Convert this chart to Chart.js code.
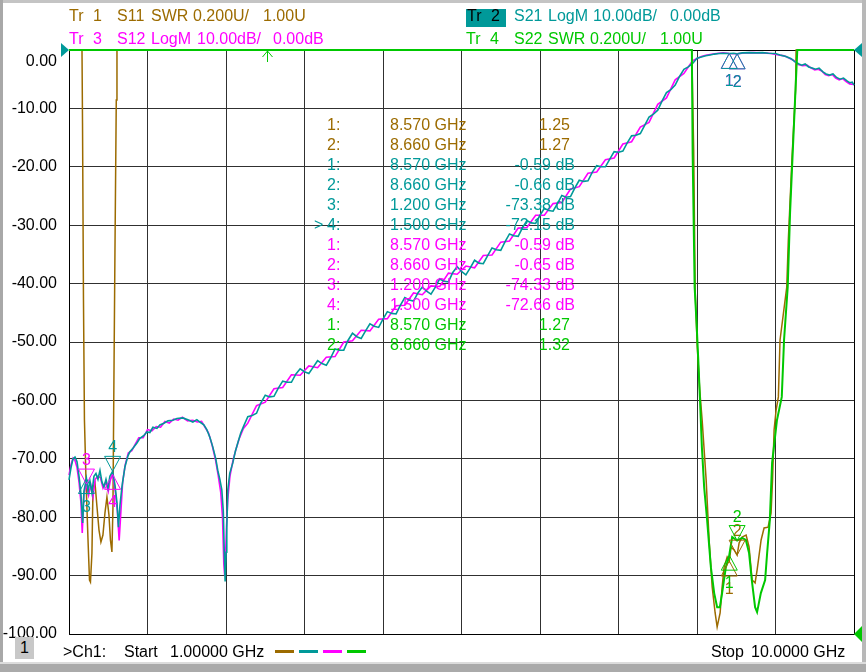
<!DOCTYPE html>
<html lang="en">
<head>
<meta charset="UTF-8">
<title>Ch1 S-parameters 1-10 GHz</title>
<script src="https://cdn.jsdelivr.net/npm/chart.js"></script>
<style>
  body { margin:0; background:#fff; font-family:"Liberation Sans", Arial, sans-serif; }
  #wrap { position:relative; width:866px; height:672px; overflow:hidden; background:#fff; }
  #wrap canvas { position:absolute; left:0; top:0; }
  .t { position:absolute; font-size:16px; line-height:16px; white-space:pre; }
  .br { color:#9c6b00; } .tl { color:#009999; } .mg { color:#ff00ff; } .gr { color:#00c800; }
  .fr { position:absolute; background:#b0b0b0; }
  .dash { position:absolute; top:650px; height:3px; width:19px; }
</style>
</head>
<body>
<div id="wrap">
  <canvas id="vna" width="866" height="672"></canvas>

  <!-- window frame -->
  <div class="fr" style="left:0;top:0;width:866px;height:3px;background:#c4c4c4"></div>
  <div class="fr" style="left:0;top:0;width:3px;height:672px;background:#a8a8a8"></div>
  <div class="fr" style="left:862px;top:0;width:4px;height:672px;background:#b8b8b8"></div>
  <div class="fr" style="left:0;top:662px;width:866px;height:2px;background:#dcdcdc"></div>
  <div class="fr" style="left:0;top:664px;width:866px;height:8px;background:#aaaaaa"></div>

  <!-- trace headers -->
  <span class="t br" style="left:69px;top:7.5px">Tr</span>
  <span class="t br" style="left:93px;top:7.5px">1</span>
  <span class="t br" style="left:117px;top:7.5px">S11</span>
  <span class="t br" style="left:151px;top:7.5px">SWR</span>
  <span class="t br" style="left:193px;top:7.5px">0.200U/</span>
  <span class="t br" style="left:263px;top:7.5px">1.00U</span>

  <span class="t mg" style="left:69px;top:30.5px">Tr</span>
  <span class="t mg" style="left:93px;top:30.5px">3</span>
  <span class="t mg" style="left:117px;top:30.5px">S12</span>
  <span class="t mg" style="left:151px;top:30.5px">LogM</span>
  <span class="t mg" style="left:197px;top:30.5px">10.00dB/</span>
  <span class="t mg" style="left:273px;top:30.5px">0.00dB</span>

  <div style="position:absolute;left:466px;top:9px;width:40px;height:18px;background:#009999"></div>
  <span class="t" style="left:467px;top:7.5px;color:#000">Tr</span>
  <span class="t" style="left:491px;top:7.5px;color:#000">2</span>
  <span class="t tl" style="left:514px;top:7.5px">S21</span>
  <span class="t tl" style="left:548px;top:7.5px">LogM</span>
  <span class="t tl" style="left:593px;top:7.5px">10.00dB/</span>
  <span class="t tl" style="left:670px;top:7.5px">0.00dB</span>

  <span class="t gr" style="left:466px;top:30.5px">Tr</span>
  <span class="t gr" style="left:490px;top:30.5px">4</span>
  <span class="t gr" style="left:514px;top:30.5px">S22</span>
  <span class="t gr" style="left:548px;top:30.5px">SWR</span>
  <span class="t gr" style="left:590px;top:30.5px">0.200U/</span>
  <span class="t gr" style="left:660px;top:30.5px">1.00U</span>

  <!-- top y label sits below its gridline -->
  <span class="t" style="right:809px;top:52.5px;color:#000">0.00</span>

  <!-- footer -->
  <div style="position:absolute;left:15px;top:637px;width:19px;height:22px;background:#c8c8c8;font-size:16px;line-height:22px;text-align:center">1</div>
  <span class="t" style="left:63px;top:643.5px;color:#000">&gt;Ch1:</span>
  <span class="t" style="left:124px;top:643.5px;color:#000">Start</span>
  <span class="t" style="left:170px;top:643.5px;color:#000">1.00000 GHz</span>
  <div class="dash" style="left:275px;background:#9c6b00"></div>
  <div class="dash" style="left:299px;background:#009999"></div>
  <div class="dash" style="left:323px;background:#ff00ff"></div>
  <div class="dash" style="left:347px;background:#00c800"></div>
  <span class="t" style="left:711px;top:643.5px;color:#000">Stop</span>
  <span class="t" style="left:751px;top:643.5px;color:#000">10.0000 GHz</span>

  <div id="table"></div>
</div>

<script>
    // Frequency grid (GHz), 10 divisions of 0.9 GHz
    var xGrid = [1.0, 1.9, 2.8, 3.7, 4.6, 5.5, 6.4, 7.3, 8.2, 9.1, 10.0];

    // S21 LogM (dB)
    var s21 = [
        [1.000,-73.6],[1.023,-71.5],[1.046,-70.0],[1.069,-69.7],[1.092,-70.5],[1.115,-73.0],[1.137,-76.0],
        [1.157,-81.0],[1.172,-75.5],[1.200,-73.38],[1.218,-75.5],[1.240,-73.8],[1.263,-75.8],[1.286,-73.0],
        [1.309,-72.5],[1.332,-73.5],[1.355,-72.0],[1.378,-74.0],[1.401,-74.8],[1.424,-73.5],[1.447,-75.0],
        [1.469,-73.0],[1.500,-72.15],[1.527,-74.5],[1.550,-77.5],[1.567,-81.7],[1.584,-78.0],[1.607,-74.8],
        [1.641,-71.4],[1.676,-69.5],[1.698,-68.8],[1.733,-68.2],[1.779,-67.3],[1.813,-66.5],[1.859,-66.0],
        [1.893,-65.4],[1.927,-65.5],[1.962,-64.6],[2.008,-64.8],[2.042,-64.2],[2.088,-63.9],[2.134,-63.5],
        [2.191,-63.4],[2.237,-63.1],[2.305,-63.0],[2.363,-63.3],[2.420,-63.7],[2.466,-63.3],[2.500,-63.7],
        [2.546,-64.2],[2.580,-65.0],[2.615,-66.3],[2.649,-68.0],[2.683,-70.0],[2.706,-72.0],[2.729,-73.5],
        [2.752,-75.3],[2.769,-79.0],[2.780,-86.0],[2.790,-91.0],[2.801,-86.0],[2.809,-81.7],[2.821,-75.3],
        [2.843,-72.5],[2.878,-70.7],[2.906,-68.8],[2.935,-67.3],[2.969,-65.6],
        [3.00,-64.5],[3.05,-62.8],[3.10,-62.6],[3.15,-62.2],[3.20,-60.4],[3.25,-59.1],[3.30,-59.4],[3.35,-59.3],
        [3.40,-57.9],[3.45,-56.7],[3.50,-56.9],[3.55,-56.9],[3.60,-55.5],[3.65,-54.6],[3.70,-55.1],[3.75,-55.4],
        [3.80,-54.3],[3.85,-53.2],[3.90,-53.7],[3.95,-54.0],[4.00,-52.7],[4.05,-51.2],[4.10,-51.4],[4.15,-51.4],
        [4.20,-49.7],[4.25,-48.5],[4.30,-49.1],[4.35,-49.4],[4.40,-48.1],[4.45,-46.9],[4.50,-47.3],[4.55,-47.5],
        [4.60,-46.1],[4.65,-44.8],[4.70,-45.1],[4.75,-45.2],[4.80,-43.7],[4.85,-42.4],[4.90,-42.8],[4.95,-43.0],
        [5.00,-41.6],[5.05,-40.6],[5.10,-41.3],[5.15,-41.8],[5.20,-40.6],[5.25,-39.2],[5.30,-39.6],[5.35,-39.7],
        [5.40,-38.1],[5.45,-37.1],[5.50,-37.9],[5.55,-38.5],[5.60,-37.3],[5.65,-36.0],[5.70,-36.5],[5.75,-36.6],
        [5.80,-35.2],[5.85,-33.9],[5.90,-34.2],[5.95,-34.3],[6.00,-32.8],[6.05,-31.5],[6.10,-31.8],[6.15,-31.9],
        [6.20,-30.4],[6.25,-29.2],[6.30,-29.6],[6.35,-29.7],[6.40,-28.3],[6.45,-27.1],[6.50,-27.5],[6.55,-27.6],
        [6.60,-26.3],[6.65,-24.9],[6.70,-25.2],[6.75,-25.1],[6.80,-23.6],[6.85,-22.3],[6.90,-22.5],[6.95,-22.4],
        [7.00,-20.9],[7.05,-19.8],[7.10,-20.0],[7.15,-20.0],[7.20,-18.7],[7.25,-17.4],[7.30,-17.5],[7.35,-17.3],
        [7.40,-15.9],[7.45,-14.7],[7.50,-14.6],[7.55,-14.3],[7.60,-12.9],[7.65,-11.5],[7.70,-11.0],[7.75,-10.3],
        [7.80,-8.7],[7.85,-7.3],[7.90,-6.8],[7.95,-6.0],[8.00,-4.5],[8.05,-3.3],[8.10,-2.9],[8.15,-2.3],
        [8.20,-1.4],[8.25,-1.2],[8.30,-1.0],[8.35,-0.85],[8.40,-0.7],[8.45,-0.6],[8.50,-0.55],[8.57,-0.59],
        [8.62,-0.55],[8.66,-0.66],[8.72,-0.5],[8.80,-0.45],[8.88,-0.5],[8.95,-0.45],[9.02,-0.55],[9.10,-0.6],
        [9.15,-0.85],[9.22,-1.1],[9.28,-1.5],[9.32,-2.0],[9.37,-2.4],[9.40,-2.6],[9.44,-2.4],[9.48,-2.9],
        [9.52,-3.1],[9.56,-3.3],[9.60,-3.1],[9.64,-3.7],[9.68,-4.1],[9.72,-4.3],[9.76,-4.1],[9.80,-4.7],
        [9.84,-5.0],[9.88,-4.8],[9.92,-5.3],[9.95,-5.6],[9.98,-5.5],[10.00,-6.0]
    ];

    // S12 LogM (dB)
    var s12 = [
        [1.000,-72.8],[1.023,-71.0],[1.046,-69.9],[1.069,-70.3],[1.092,-71.5],[1.115,-74.0],[1.137,-77.5],
        [1.152,-82.7],[1.170,-76.0],[1.200,-74.33],[1.225,-76.2],[1.250,-74.5],[1.275,-76.5],[1.300,-73.5],
        [1.330,-73.0],[1.360,-73.2],[1.390,-75.0],[1.420,-74.0],[1.450,-75.6],[1.475,-73.6],[1.500,-72.66],
        [1.530,-75.5],[1.555,-79.0],[1.575,-84.0],[1.595,-79.0],[1.615,-74.0],[1.645,-71.0],[1.680,-69.0],
        [1.720,-68.6],[1.760,-67.5],[1.800,-66.4],[1.850,-66.4],[1.900,-65.0],[1.950,-65.2],[2.000,-64.5],
        [2.050,-64.6],[2.100,-63.6],[2.150,-63.9],[2.200,-63.2],[2.250,-63.4],[2.300,-62.9],[2.360,-63.5],
        [2.420,-63.4],[2.470,-63.7],[2.520,-63.6],[2.560,-64.6],[2.600,-65.6],[2.640,-67.6],[2.680,-70.2],
        [2.710,-72.8],[2.740,-75.8],[2.760,-80.0],[2.775,-88.0],[2.785,-90.0],[2.795,-86.5],[2.805,-82.0],
        [2.820,-77.0],[2.845,-73.0],[2.880,-70.3],[2.910,-68.6],[2.950,-66.6],[3.000,-64.8],
        [3.05,-63.9],[3.15,-60.9],[3.25,-60.3],[3.35,-58.0],[3.45,-57.8],[3.55,-55.6],[3.65,-55.7],[3.75,-54.1],
        [3.85,-54.4],[3.95,-52.6],[4.05,-52.5],[4.15,-50.0],[4.25,-49.8],[4.35,-48.0],[4.45,-48.1],[4.55,-46.1],
        [4.65,-46.0],[4.75,-43.8],[4.85,-43.7],[4.95,-41.6],[5.05,-41.9],[5.15,-40.4],[5.25,-40.5],[5.35,-38.2],
        [5.45,-38.4],[5.55,-37.0],[5.65,-37.3],[5.75,-35.2],[5.85,-35.1],[5.95,-32.9],[6.05,-32.7],[6.15,-30.5],
        [6.25,-30.4],[6.35,-28.3],[6.45,-28.3],[6.55,-26.3],[6.65,-26.1],[6.75,-23.8],[6.85,-23.4],[6.95,-21.1],
        [7.05,-20.9],[7.15,-18.8],[7.25,-18.5],[7.35,-16.1],[7.45,-15.7],[7.55,-13.2],[7.65,-12.4],[7.75,-9.3],
        [7.85,-8.2],[7.95,-5.1],[8.05,-4.0],[8.15,-1.8],
        [8.25,-1.1],[8.30,-0.9],[8.40,-0.65],[8.50,-0.5],[8.57,-0.59],[8.66,-0.65],[8.75,-0.5],[8.85,-0.45],
        [8.95,-0.5],[9.05,-0.6],[9.12,-0.8],[9.20,-1.0],[9.26,-1.4],[9.31,-1.8],[9.36,-2.5],[9.41,-2.7],
        [9.46,-2.6],[9.50,-3.0],[9.55,-3.4],[9.59,-3.3],[9.63,-3.6],[9.67,-4.2],[9.71,-4.4],[9.75,-4.2],
        [9.79,-4.8],[9.83,-5.1],[9.87,-4.9],[9.91,-5.4],[9.95,-5.8],[10.00,-5.9]
    ];

    // S11 SWR (U), pinned at 3.00 where off the top of the grid
    var s11 = [
        [1.000,3.0],[1.149,3.0],[1.155,2.75],[1.166,2.144],[1.177,1.733],[1.195,1.527],[1.218,1.322],
        [1.235,1.185],[1.246,1.178],[1.263,1.277],[1.275,1.503],[1.298,1.517],[1.321,1.435],[1.344,1.356],
        [1.366,1.315],[1.389,1.339],[1.412,1.414],[1.435,1.469],[1.458,1.408],[1.475,1.322],[1.492,1.281],
        [1.504,1.435],[1.515,1.870],[1.527,2.315],[1.542,2.829],[1.550,3.0],
        [8.140,3.0],[8.162,2.658],[8.179,2.178],[8.202,1.99],[8.231,1.836],[8.259,1.733],[8.305,1.527],
        [8.339,1.322],[8.374,1.161],[8.408,1.072],[8.431,1.024],[8.465,1.072],[8.488,1.161],[8.511,1.229],
        [8.546,1.264],[8.570,1.25],[8.591,1.298],[8.625,1.288],[8.660,1.27],[8.683,1.312],[8.717,1.332],
        [8.763,1.339],[8.797,1.298],[8.832,1.185],[8.866,1.175],[8.889,1.219],[8.935,1.322],[8.969,1.363],
        [9.015,1.366],[9.049,1.414],[9.066,1.527],[9.084,1.699],[9.107,1.767],[9.133,1.812],[9.152,2.007],
        [9.229,2.188],[9.247,2.349],[9.290,2.634],[9.330,2.863],[9.336,3.0],[10.000,3.0]
    ];

    // S22 SWR (U)
    var s22 = [
        [1.000,3.0],[8.141,3.0],[8.150,2.647],[8.173,2.188],[8.195,2.065],[8.213,1.949],[8.233,1.812],
        [8.256,1.640],[8.282,1.503],[8.316,1.390],[8.359,1.229],[8.397,1.140],[8.431,1.092],[8.462,1.092],
        [8.488,1.140],[8.531,1.229],[8.570,1.27],[8.603,1.332],[8.660,1.32],[8.717,1.329],[8.760,1.322],
        [8.797,1.277],[8.828,1.185],[8.866,1.092],[8.889,1.075],[8.932,1.140],[8.981,1.185],[9.004,1.277],
        [9.035,1.390],[9.061,1.586],[9.117,1.733],[9.172,1.812],[9.198,2.007],[9.240,2.188],[9.267,2.442],
        [9.324,2.829],[9.350,3.0],[10.000,3.0]
    ];

    // Marker readouts
    var mkFreq = [8.570, 8.660, 1.200, 1.500];
    var s11Mk = [1.25, 1.27];
    var s21Mk = [-0.59, -0.66, -73.38, -72.15];
    var s12Mk = [-0.59, -0.65, -74.33, -72.66];
    var s22Mk = [1.27, 1.32];
    var arrowFreq = [3.275];

    var C = { s11: '#9c6b00', s21: '#009999', s12: '#ff00ff', s22: '#00c800' };
    var FONT = '16px "Liberation Sans", Arial, sans-serif';

    function pts(a) { return a.map(function (p) { return { x: p[0], y: p[1] }; }); }

    // marker readout table
    var rows = [];
    s11Mk.forEach(function (v, i) { rows.push({ c: 'br', n: i + 1, f: mkFreq[i], v: v.toFixed(2) }); });
    s21Mk.forEach(function (v, i) { rows.push({ c: 'tl', n: i + 1, f: mkFreq[i], v: v.toFixed(2) + ' dB', act: i === 3 }); });
    s12Mk.forEach(function (v, i) { rows.push({ c: 'mg', n: i + 1, f: mkFreq[i], v: v.toFixed(2) + ' dB' }); });
    s22Mk.forEach(function (v, i) { rows.push({ c: 'gr', n: i + 1, f: mkFreq[i], v: v.toFixed(2) }); });
    var html = '';
    rows.forEach(function (r, i) {
        var top = 117.2 + 20 * i;
        var right = r.v.indexOf('dB') > 0 ? 291 : 296;
        if (r.act) html += '<span class="t ' + r.c + '" style="left:314px;top:' + top + 'px">&gt;</span>';
        html += '<span class="t ' + r.c + '" style="left:327px;top:' + top + 'px">' + r.n + ':</span>';
        html += '<span class="t ' + r.c + '" style="left:390px;top:' + top + 'px">' + r.f.toFixed(3) + ' GHz</span>';
        html += '<span class="t ' + r.c + '" style="right:' + right + 'px;top:' + top + 'px">' + r.v + '</span>';
    });
    document.getElementById('table').innerHTML = html;

    function tri(ctx, p, color, fill) {
        ctx.beginPath();
        ctx.moveTo(p[0][0], p[0][1]);
        ctx.lineTo(p[1][0], p[1][1]);
        ctx.lineTo(p[2][0], p[2][1]);
        ctx.closePath();
        if (fill) { ctx.fillStyle = color; ctx.fill(); }
        else { ctx.strokeStyle = color; ctx.stroke(); }
    }

    var markerDraw = [
        { axis: 'swr', vals: s11Mk, up: [true, false], color: C.s11 },
        { axis: 'y', vals: s12Mk, up: [true, true, false, true], color: C.s12 },
        { axis: 'y', vals: s21Mk, up: [true, true, true, false], color: C.s21 },
        { axis: 'swr', vals: s22Mk, up: [true, false], color: C.s22 }
    ];

    var overlay = {
        id: 'vnaOverlay',
        beforeDatasetsDraw: function (chart) {
            // 1px black frame on whole pixel rows/columns
            var ctx = chart.ctx, a = chart.chartArea;
            var l = Math.round(a.left) + 0.5, r = Math.round(a.right) + 0.5;
            var t = Math.round(a.top) + 0.5, b = Math.round(a.bottom) + 0.5;
            ctx.save();
            ctx.strokeStyle = '#000';
            ctx.lineWidth = 1;
            ctx.beginPath();
            ctx.moveTo(l, t); ctx.lineTo(r, t); ctx.lineTo(r, b); ctx.lineTo(l, b); ctx.closePath();
            ctx.stroke();
            ctx.restore();
        },
        afterDatasetsDraw: function (chart) {
            var ctx = chart.ctx, a = chart.chartArea, xs = chart.scales.x;
            ctx.save();
            // reference position arrows
            var y0 = chart.scales.y.getPixelForValue(0);
            tri(ctx, [[a.left - 8, y0 - 7], [a.left, y0], [a.left - 8, y0 + 7]], C.s21, true);
            tri(ctx, [[a.right + 8, y0 - 7], [a.right, y0], [a.right + 8, y0 + 7]], C.s21, true);
            var yr = chart.scales.swr.getPixelForValue(1);
            tri(ctx, [[a.right + 8, yr - 8], [a.right, yr], [a.right + 8, yr + 8]], C.s22, true);

            // markers
            ctx.font = FONT;
            ctx.textAlign = 'center';
            ctx.lineWidth = 1;
            markerDraw.forEach(function (m) {
                var ys = chart.scales[m.axis];
                m.vals.forEach(function (v, i) {
                    var px = xs.getPixelForValue(mkFreq[i]);
                    var py = ys.getPixelForValue(v);
                    var w = 8, h = 15;
                    if (m.up[i]) {
                        tri(ctx, [[px, py], [px - w, py + h], [px + w, py + h]], m.color, false);
                        ctx.fillStyle = m.color;
                        ctx.fillText(String(i + 1), px, py + h + 18);
                    } else {
                        tri(ctx, [[px, py], [px - w, py - h], [px + w, py - h]], m.color, false);
                        ctx.fillStyle = m.color;
                        ctx.fillText(String(i + 1), px, py - h - 4);
                    }
                });
            });

            // off-scale marker arrow
            ctx.strokeStyle = C.s22;
            arrowFreq.forEach(function (f) {
                var px = Math.round(xs.getPixelForValue(f)) + 0.5, t = a.top + 1;
                ctx.beginPath();
                ctx.moveTo(px - 5, t + 6); ctx.lineTo(px, t); ctx.lineTo(px + 5, t + 6);
                ctx.moveTo(px, t); ctx.lineTo(px, t + 11);
                ctx.stroke();
            });
            ctx.restore();
        }
    };

    function trace(label, data, color, axis, order, width) {
        return {
            label: label, data: pts(data), yAxisID: axis, order: order, clip: 4,
            borderColor: color, borderWidth: width, pointRadius: 0, tension: 0, fill: false
        };
    }

    var ctx = document.getElementById('vna').getContext('2d');
    var vna = new Chart(ctx, {
        type: 'line',
        data: {
            datasets: [
                trace('S22', s22, C.s22, 'swr', 0, 2),
                trace('S21', s21, C.s21, 'y', 1, 1.6),
                trace('S12', s12, C.s12, 'y', 2, 1.6),
                trace('S11', s11, C.s11, 'swr', 3, 1.5)
            ]
        },
        options: {
            responsive: false,
            animation: false,
            layout: { padding: { top: 50, right: 12, left: 0, bottom: 0 } },
            plugins: { legend: { display: false }, tooltip: { enabled: false } },
            scales: {
                x: {
                    type: 'linear', min: 1, max: 10,
                    afterBuildTicks: function (s) { s.ticks = xGrid.map(function (v) { return { value: v }; }); },
                    afterFit: function (s) { s.height = 38; },
                    ticks: { display: false },
                    grid: { color: '#303030', lineWidth: 1, drawTicks: false },
                    border: { display: false }
                },
                y: {
                    min: -100, max: 0,
                    afterFit: function (s) { s.width = 69; },
                    ticks: {
                        stepSize: 10, padding: 12, color: '#000',
                        font: { family: '"Liberation Sans", Arial, sans-serif', size: 16 },
                        callback: function (v) { return v === 0 ? '' : v.toFixed(2); }
                    },
                    grid: { color: '#303030', lineWidth: 1, drawTicks: false },
                    border: { display: false }
                },
                swr: { display: false, min: 1, max: 3 }
            }
        },
        plugins: [overlay]
    });
</script>
</body>
</html>
